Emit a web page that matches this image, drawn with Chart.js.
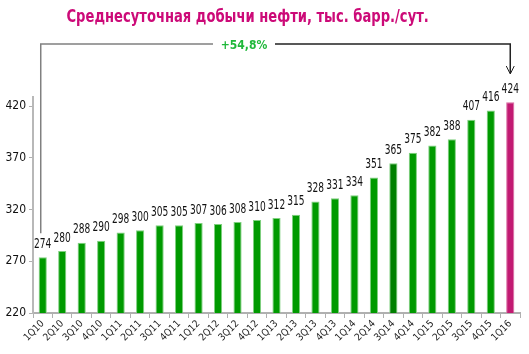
<!DOCTYPE html>
<html>
<head>
<meta charset="utf-8">
<script src="https://cdn.jsdelivr.net/npm/chart.js@4/dist/chart.umd.min.js"></script>
<style>
    html, body { margin: 0; padding: 0; background: #fff; }
    #wrap { position: relative; width: 529px; height: 354px; }
    #title {
        position: absolute; left: 0; top: 5px; width: 496px;
        text-align: center; font-family: 'DejaVu Sans Condensed', 'Liberation Sans Narrow', sans-serif;
        font-weight: bold; font-size: 18px; color: #cc0a78;
    }
    #title span { display: inline-block; transform: scaleX(0.81); white-space: nowrap; }
</style>
</head>
<body>
<div id="wrap">
    <div id="title"><span>Среднесуточная добычи нефти, тыс. барр./сут.</span></div>
    <canvas id="chart" width="529" height="354"></canvas>
</div>
<script>
// 四半期
var quarters = ["1Q10", "2Q10", "3Q10", "4Q10", "1Q11", "2Q11", "3Q11", "4Q11", "1Q12", "2Q12", "3Q12", "4Q12",
    "1Q13", "2Q13", "3Q13", "4Q13", "1Q14", "2Q14", "3Q14", "4Q14", "1Q15", "2Q15", "3Q15", "4Q15", "1Q16"];

// 平均日量 (千バレル/日)
var production = [274, 280, 288, 290, 298, 300, 305, 305, 307, 306, 308, 310,
    312, 315, 328, 331, 334, 351, 365, 375, 382, 388, 407, 416, 424];

// Y軸の目盛り
var yTicks = [220, 270, 320, 370, 420];

var growthLabel = "+54,8%";

var narrow = "'DejaVu Sans Condensed', 'Liberation Sans Narrow', sans-serif";

// 棒の色
var barColors = production.map(function (v, i) {
    if (i === production.length - 1) return '#c21a72';
    if (quarters[i] === '3Q14') return '#007f00';
    return '#009a00';
});

// 値ラベルと矢印
var labelsPlugin = {
    id: 'labels',
    afterDatasetsDraw: function (chart) {
        var ctx = chart.ctx;
        var meta = chart.getDatasetMeta(0);
        ctx.save();
        ctx.font = '14px ' + narrow;
        ctx.fillStyle = '#111';
        ctx.textAlign = 'center';
        ctx.textBaseline = 'bottom';
        meta.data.forEach(function (bar, i) {
            ctx.save();
            ctx.translate(bar.x, bar.y - 6);
            ctx.scale(0.72, 1); // 縦長の数字に見せる
            ctx.fillText(production[i], 0, 0);
            ctx.restore();
        });

        // 伸び率の括弧線
        var first = meta.data[0];
        var last = meta.data[meta.data.length - 1];
        var lineY = 44;
        var x1 = first.x - 2;
        var x2 = last.x;
        var textX = 244;
        ctx.lineWidth = 1.5;
        ctx.strokeStyle = '#808080';
        ctx.beginPath();
        ctx.moveTo(x1, first.y - 24);
        ctx.lineTo(x1, lineY);
        ctx.lineTo(textX - 31, lineY);
        ctx.stroke();
        ctx.strokeStyle = '#222';
        ctx.beginPath();
        ctx.moveTo(textX + 31, lineY);
        ctx.lineTo(x2, lineY);
        ctx.lineTo(x2, 73);
        ctx.stroke();
        ctx.lineWidth = 1;
        ctx.beginPath();
        ctx.moveTo(x2 - 4, 66);
        ctx.lineTo(x2, 74);
        ctx.lineTo(x2 + 4, 66);
        ctx.stroke();

        ctx.font = 'bold 12px ' + narrow;
        ctx.fillStyle = '#1fb83a';
        ctx.textBaseline = 'middle';
        ctx.fillText(growthLabel, textX, lineY + 2);
        ctx.restore();
    }
};

var ctx = document.getElementById('chart').getContext('2d');
var myChart = new Chart(ctx, {
    type: 'bar',
    data: {
        labels: quarters,
        datasets: [{
            data: production,
            backgroundColor: barColors,
            borderColor: barColors.map(function (c) { return c === '#c21a72' ? '#d86aa0' : '#7fd07f'; }),
            borderWidth: 1,
            barPercentage: 0.42,
            categoryPercentage: 1.0
        }]
    },
    options: {
        responsive: false,
        animation: false,
        layout: { padding: { top: 97, right: 9, left: 0, bottom: 0 } },
        plugins: {
            legend: { display: false },
            tooltip: { enabled: false }
        },
        scales: {
            x: {
                offset: true,
                grid: { display: true, drawOnChartArea: false, drawTicks: true, tickLength: 5, offset: true, color: '#b0b0b0' },
                border: { color: '#b0b0b0', width: 2 },
                ticks: {
                    autoSkip: false, maxRotation: 45, minRotation: 45,
                    font: { size: 10, family: narrow }, color: '#222', padding: 0
                },
                afterFit: function (scale) { scale.height = 41; }
            },
            y: {
                min: 220,
                max: 429,
                grid: { display: true, drawOnChartArea: false, drawTicks: true, tickLength: 4, color: '#b0b0b0' },
                border: { color: '#b8b8b8', width: 2 },
                ticks: { font: { size: 12, family: narrow }, color: '#111', padding: 3 },
                afterBuildTicks: function (scale) {
                    scale.ticks = yTicks.map(function (v) { return { value: v }; });
                },
                afterFit: function (scale) { scale.width = 33; }
            }
        }
    },
    plugins: [labelsPlugin]
});
</script>
</body>
</html>
